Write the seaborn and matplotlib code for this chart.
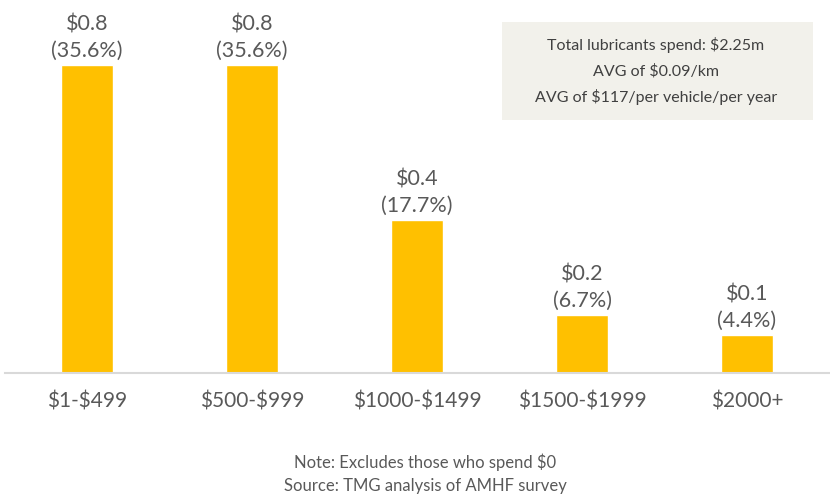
import matplotlib
matplotlib.use("Agg")
import matplotlib.pyplot as plt
import seaborn as sns
import pandas as pd

# spend bands and values
bands = ["$1-$499", "$500-$999", "$1000-$1499", "$1500-$1999", "$2000+"]
spend_m = [0.8, 0.8, 0.4, 0.2, 0.1]
share_pct = [35.6, 35.6, 17.7, 6.7, 4.4]

info_lines = [
    "Total lubricants spend: $2.25m",
    "AVG of $0.09/km",
    "AVG of $117/per vehicle/per year",
]
note_lines = ["Note: Excludes those who spend $0", "Source: TMG analysis of AMHF survey"]

sns.set_style("white")
plt.rcParams["font.family"] = ["Lato", "DejaVu Sans"]
plt.rcParams["text.parse_math"] = False

df = pd.DataFrame({"band": bands, "share": share_pct, "spend": spend_m})

fig = plt.figure(figsize=(8.3, 4.99), dpi=100)
ax = fig.add_axes([4.5 / 830, 126 / 499, 825 / 830, 373 / 499])

sns.barplot(data=df, x="band", y="share", color="#FFC000", saturation=1,
            width=0.31, ax=ax)

for i, row in df.iterrows():
    ax.annotate(f"${row.spend:.1f}\n({row.share:.1f}%)", (i, row.share),
                xytext=(0, 3), textcoords="offset points", ha="center", va="bottom",
                fontsize=15.5, color="#595959", linespacing=1.38)

ax.set_xlim(-0.5, 4.5)
ax.set_ylim(0, 43.1)
ax.set_xlabel("")
ax.set_ylabel("")
ax.set_yticks([])
ax.tick_params(axis="x", length=0, pad=13, labelsize=15, labelcolor="#595959")
for side in ["top", "left", "right"]:
    ax.spines[side].set_visible(False)
ax.spines["bottom"].set_color("#D9D9D9")
ax.spines["bottom"].set_linewidth(1.5)

# info box
box = plt.Rectangle((502 / 830, 1 - 120 / 499), 311 / 830, 98 / 499,
                    transform=fig.transFigure, facecolor="#F2F1EB", edgecolor="none")
fig.patches.append(box)
for k, line in enumerate(info_lines):
    fig.text(656 / 830, 1 - (45 + 26 * k) / 499, line, ha="center", va="center",
             fontsize=11.5, color="#404040")

for k, line in enumerate(note_lines):
    fig.text(425 / 830, 1 - (462 + 24 * k) / 499, line, ha="center", va="center",
             fontsize=12, color="#595959")

fig.savefig("out.png", dpi=100)
